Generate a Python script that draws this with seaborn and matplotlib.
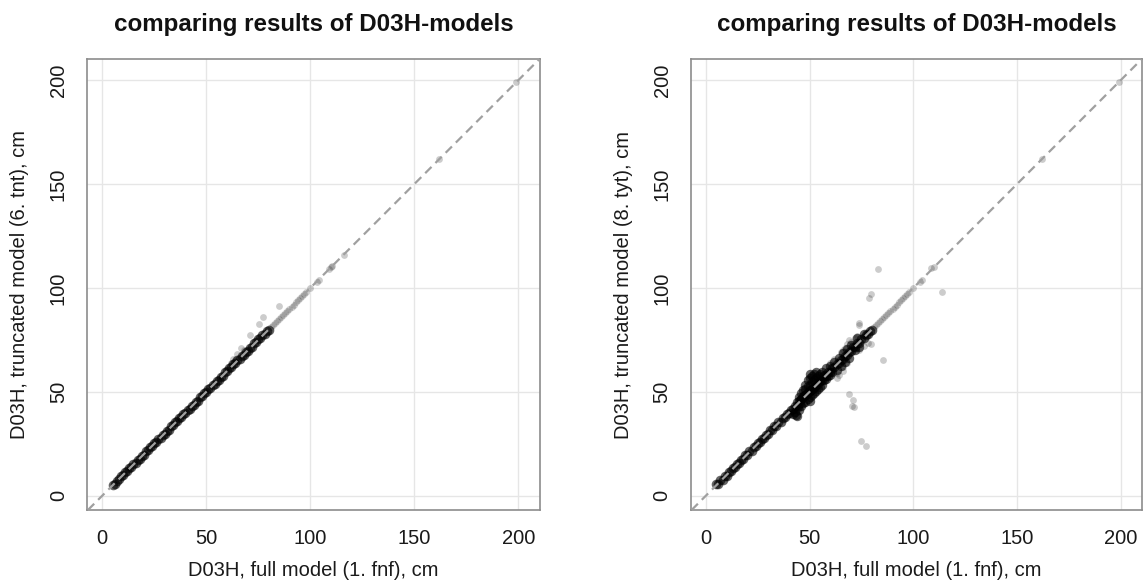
import numpy as np
import pandas as pd
import seaborn as sns
import matplotlib.pyplot as plt

# values (cm)
body_x = [5, 6, 7, 8, 9, 10, 11, 12, 13, 14, 15, 16, 17, 18, 19, 20, 21, 22, 23, 24,
          25, 26, 27, 28, 29, 30, 31, 32, 33, 34, 35, 36, 37, 38, 39, 40, 41, 42, 43, 44,
          45, 46, 47, 48, 49, 50, 51, 52, 53, 54, 55, 56, 57, 58, 59, 60, 61, 62, 63, 64,
          65, 66, 67, 68, 69, 70, 71, 72, 73, 74, 75, 76, 77, 78, 79, 80]
tnt_body_y = [5.3, 5.8, 7.3, 7.8, 9.3, 9.8, 11.3, 11.8, 13.3, 13.8, 15.3, 15.8, 17.3, 17.8, 19.3, 19.8,
              21.3, 21.8, 23.3, 23.8, 25.3, 25.8, 27.3, 27.8, 29.3, 29.8, 31.3, 31.8, 33.3, 33.8,
              35.3, 35.8, 37.3, 37.8, 39.3, 39.8, 41.3, 41.8, 43.3, 43.8, 45.3, 45.8, 47.3, 47.8,
              49.3, 49.8, 51.3, 51.8, 53.3, 53.8, 55.3, 55.8, 57.3, 57.8, 59.3, 59.8, 61.3, 61.8,
              63.3, 63.8, 65.3, 65.8, 67.3, 67.8, 69.3, 69.8, 71.3, 71.8, 73.3, 73.8, 75.3, 75.8,
              77.3, 77.8, 79.3, 79.8]
tyt_body_y = [5.4, 5.7, 7.4, 7.7, 9.4, 9.7, 11.4, 11.7, 13.4, 13.7, 15.4, 15.7, 17.4, 17.7, 19.4, 19.7,
              21.4, 21.7, 23.4, 23.7, 25.4, 25.7, 27.4, 27.7, 29.4, 29.7, 31.4, 31.7, 33.4, 33.7,
              35.4, 35.7, 37.4, 37.7, 39.4, 39.7, 41.4, 41.7, 43.4, 43.2, 45.4, 46.5, 47.4, 48.5,
              49.4, 50.5, 51.4, 51.7, 53.4, 53.7, 55.4, 55.7, 57.4, 57.7, 59.4, 59.7, 61.4, 61.7,
              63.4, 63.7, 65.4, 65.7, 67.4, 67.7, 69.4, 69.7, 71.4, 71.7, 73.4, 73.7, 75.4, 75.7,
              77.4, 77.7, 79.4, 79.7]

# bulge of the 8. tyt model around 40-65 cm
tyt_cloud_x = [42, 43, 43.4, 44, 44, 44.5, 45, 45, 45.5, 46, 46, 46, 47, 47, 47, 48, 48, 48, 48,
               49, 49, 49, 49, 50, 50, 50, 50, 50, 50, 51, 51, 51, 51, 52, 52, 52, 52, 53, 53,
               53, 54, 54, 54, 55, 55, 55, 56, 56, 57, 57, 58, 58, 59, 60, 60, 61, 62, 63, 64,
               65, 66, 67, 68, 69, 70, 72, 73, 74, 76]
tyt_cloud_y = [39.5, 40.5, 38.9, 38.5, 45, 42.5, 41, 47.5, 44.5, 43, 46.5, 49.5, 44.5, 48, 51, 45, 48.5, 51.5, 53.5,
               46.5, 50, 53, 55.5, 45.5, 47.5, 50.5, 53.5, 56.5, 58.5, 48.5, 51.5, 54.5, 57.5, 49.5, 52.5, 55.5, 58.5, 50.5, 56.5,
               59.5, 51.5, 54.5, 57.5, 52.5, 55.5, 58.5, 53.5, 59.5, 55.5, 58, 56, 61.5, 57.5, 58, 62.5, 59.5, 64.5, 60.5, 66.5,
               62.5, 68.5, 64.5, 70.5, 66.5, 72.5, 70, 76, 71.5, 78]

# light single points
tnt_sparse_x = [62, 63, 64, 65, 66.6, 68, 71, 75.4, 77.5, 85, 81, 82, 83, 84, 85, 86, 87, 88, 89, 90,
                91, 92, 93, 94, 95, 96, 97, 98, 100, 103, 104, 109, 110, 110.5, 116, 162, 199]
tnt_sparse_y = [64, 66, 65.5, 68, 71.2, 70, 77.5, 82.8, 85.9, 91.2, 81, 82, 83, 84, 85, 86, 87, 88, 89, 90,
                91, 92, 93, 94, 95, 96, 97, 98, 100, 103, 104, 109, 110, 110.5, 116, 162, 199]
tyt_sparse_x = [83, 78.6, 79.4, 73.6, 74, 85.2, 79.4, 78, 114, 70.7, 70.3, 71.2, 69.2, 63.3, 64, 75, 77.3,
                66, 68, 70, 72, 74, 76, 66, 68, 62, 60, 65, 67, 69, 71, 73, 75, 77, 66, 63,
                81, 82, 83, 84, 85, 86, 87, 88, 89, 90, 91, 92, 93, 94, 95, 96, 97, 98,
                100, 103, 104, 108.4, 110, 162, 199]
tyt_sparse_y = [109, 95, 97, 83, 82, 65.4, 72.9, 73.5, 98, 46, 43.4, 42.5, 48.8, 56.8, 58, 26.4, 23.8,
                70, 73, 74, 76, 70, 72, 62, 64, 66, 64, 69, 71, 75, 73, 77, 74, 79, 60, 59,
                81, 82, 83, 84, 85, 86, 87, 88, 89, 90, 91, 92, 93, 94, 95, 96, 97, 98,
                100, 103, 104, 109.8, 110, 162, 199]

ticks = [0, 50, 100, 150, 200]
title = "comparing results of D03H-models"
xlabel = "D03H, full model (1. fnf), cm"
ylabels = ["D03H, truncated model (6. tnt), cm", "D03H, truncated model (8. tyt), cm"]

sns.set_style("white")
plt.rcParams['font.family'] = ['Liberation Sans', 'DejaVu Sans']

fig = plt.figure(figsize=(11.44, 5.83), dpi=100)
ax1 = fig.add_axes([0.0763, 0.1252, 0.3957, 0.7736])
ax2 = fig.add_axes([0.6040, 0.1252, 0.3945, 0.7736])

panels = [
    (ax1, tnt_body_y, [], [], tnt_sparse_x, tnt_sparse_y, ylabels[0]),
    (ax2, tyt_body_y, tyt_cloud_x, tyt_cloud_y, tyt_sparse_x, tyt_sparse_y, ylabels[1]),
]

for ax, body_y, cx, cy, sx, sy, ylab in panels:
    sns.scatterplot(x=body_x, y=body_y, ax=ax, color='black', alpha=0.6, s=48,
                    linewidth=0, zorder=3)
    if cx:
        sns.scatterplot(x=cx, y=cy, ax=ax, color='black', alpha=0.6, s=46,
                        linewidth=0, zorder=3)
    sns.scatterplot(x=sx, y=sy, ax=ax, color='black', alpha=0.2, s=24,
                    linewidth=0, zorder=3)
    ax.axline((0, 0), slope=1, color='#a0a0a0', lw=1.6, ls=(0, (4, 2.5)), zorder=4)

    ax.set_xlim(-7.2, 210.4)
    ax.set_ylim(-6.9, 210.2)
    ax.set_xticks(ticks)
    ax.set_yticks(ticks)
    ax.grid(True, color='#e6e6e6', lw=1)
    ax.set_axisbelow(True)
    for sp in ax.spines.values():
        sp.set_color('#8c8c8c')
        sp.set_linewidth(1.2)
    ax.tick_params(direction='out', length=7, width=1.1, color='#8c8c8c',
                   labelsize=14.5, labelcolor='#1a1a1a', pad=7)
    ax.tick_params(axis='y', labelrotation=90)
    for lab in ax.get_yticklabels():
        lab.set_va('center')
    ax.set_xlabel(xlabel, fontsize=14.5, color='#1a1a1a', labelpad=9)
    ax.set_ylabel(ylab, fontsize=14.5, color='#1a1a1a', labelpad=14)
    ax.set_title(title, fontsize=17.4, fontweight='bold', color='#111111', pad=20)

fig.savefig("out.png", dpi=100)
